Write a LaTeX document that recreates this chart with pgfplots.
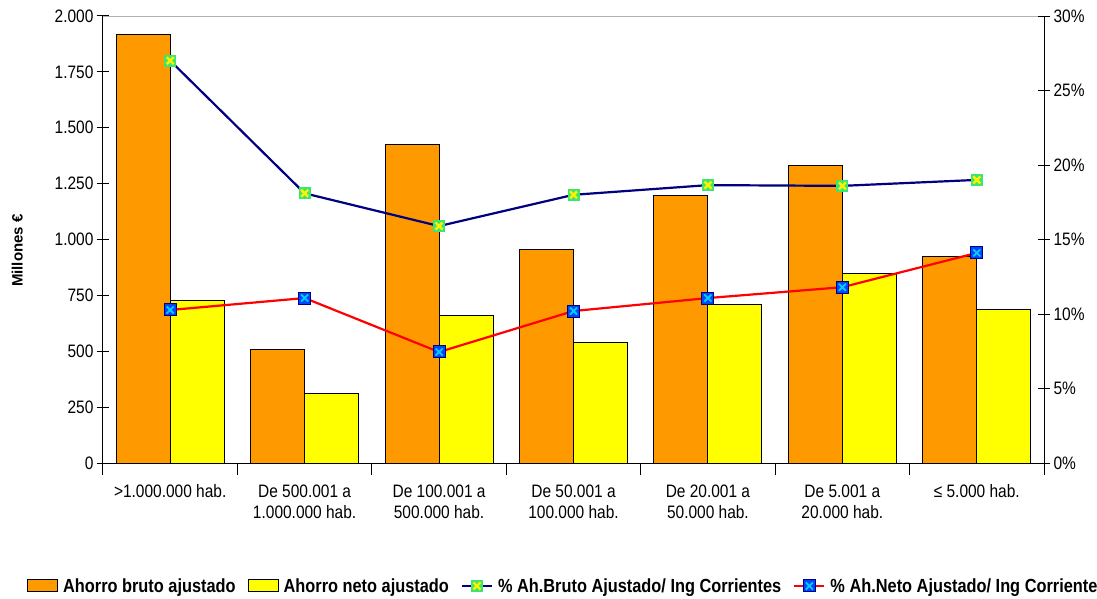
\documentclass[border=0pt]{standalone}
\usepackage{pgfplots}
\pgfplotsset{compat=1.18}
\usepackage{fontspec}
\setmainfont{Liberation Sans}[FakeStretch=0.86]
\newfontfamily\labelfont{Liberation Sans}

\definecolor{barorange}{RGB}{255,153,0}
\definecolor{baryellow}{RGB}{255,255,0}
\definecolor{linenavy}{RGB}{0,0,128}
\definecolor{linered}{RGB}{255,0,0}
\definecolor{mkgreen}{RGB}{60,230,110}
\definecolor{mkblue}{RGB}{0,70,255}
\definecolor{mkcyan}{RGB}{0,210,255}

% square markers with a cross inside
\pgfdeclareplotmark{greenx}{%
  \pgfsetfillcolor{mkgreen}%
  \pgfpathrectangle{\pgfqpoint{-6pt}{-6pt}}{\pgfqpoint{12pt}{12pt}}%
  \pgfusepath{fill}%
  \pgfsetstrokecolor{yellow}\pgfsetlinewidth{2.4pt}%
  \pgfpathmoveto{\pgfqpoint{-3.5pt}{-3.5pt}}\pgfpathlineto{\pgfqpoint{3.5pt}{3.5pt}}%
  \pgfpathmoveto{\pgfqpoint{-3.5pt}{3.5pt}}\pgfpathlineto{\pgfqpoint{3.5pt}{-3.5pt}}%
  \pgfusepath{stroke}}
\pgfdeclareplotmark{bluex}{%
  \pgfsetfillcolor{mkblue}\pgfsetstrokecolor{linenavy}\pgfsetlinewidth{1pt}%
  \pgfpathrectangle{\pgfqpoint{-6pt}{-6pt}}{\pgfqpoint{12pt}{12pt}}%
  \pgfusepath{fill,stroke}%
  \pgfsetstrokecolor{mkcyan}\pgfsetlinewidth{1.8pt}%
  \pgfpathmoveto{\pgfqpoint{-3.5pt}{-3.5pt}}\pgfpathlineto{\pgfqpoint{3.5pt}{3.5pt}}%
  \pgfpathmoveto{\pgfqpoint{-3.5pt}{3.5pt}}\pgfpathlineto{\pgfqpoint{3.5pt}{-3.5pt}}%
  \pgfusepath{stroke}}

\pgfplotsset{
  common/.style={
    at={(103pt,135pt)}, anchor=south west,
    width=941pt, height=447pt, scale only axis,
    xmin=-0.5, xmax=6.5,
    tick align=center, major tick length=12pt,
    axis line style={line width=1pt, black},
    tick style={line width=1pt, black},
    tick label style={font=\fontsize{18}{21}\selectfont, black},
  },
  mylinelegend/.style={
    legend image code/.code={\draw[mark repeat=2, mark phase=2, ##1] plot coordinates {(0pt,0pt) (15pt,0pt) (30pt,0pt)};}},
  orangelegend/.style={
    legend image code/.code={\draw[fill=barorange, draw=black, line width=1pt] (0pt,-6pt) rectangle (30pt,6pt);}},
  yellowlegend/.style={
    legend image code/.code={\draw[fill=baryellow, draw=black, line width=1pt] (0pt,-6pt) rectangle (30pt,6pt);}},
}

\begin{document}
\begin{tikzpicture}
\useasboundingbox (0,0) rectangle (1097pt,598pt);

\begin{axis}[
    common,
    axis x line*=bottom, axis y line*=left,
    ymin=0, ymax=2000,
    ytick={0,250,...,2000},
    yticklabels={0,250,500,750,{1.000},{1.250},{1.500},{1.750},{2.000}},
    xtick={-0.5,0.5,...,6.5},
    x tick label as interval,
    xticklabels={
      {>1.000.000 hab.},
      {De 500.001 a\\1.000.000 hab.},
      {De 100.001 a\\500.000 hab.},
      {De 50.001 a\\100.000 hab.},
      {De 20.001 a\\50.000 hab.},
      {De 5.001 a\\20.000 hab.},
      {≤ 5.000 hab.}},
    xticklabel style={align=center, yshift=-6pt},
    ylabel={\labelfont\bfseries\fontsize{15}{15}\selectfont Millones €},
    ylabel style={at={(axis description cs:-0.091,0.475)}, anchor=center},
    ybar, bar width=54pt,
]
\addplot[fill=barorange, draw=black, line width=1pt, bar shift=-27pt]
  coordinates {(0,1915) (1,510) (2,1423) (3,957) (4,1195) (5,1329) (6,922)};
\addplot[fill=baryellow, draw=black, line width=1pt, bar shift=27pt]
  coordinates {(0,725) (1,309) (2,658) (3,541) (4,707) (5,846) (6,689)};
\draw[gray!60, line width=0.8pt] (rel axis cs:0,1) -- (rel axis cs:1,1);
\end{axis}

\begin{axis}[
    common,
    axis x line=none, axis y line*=right,
    ymin=0, ymax=30,
    ytick={0,5,...,30},
    yticklabels={0\%,5\%,10\%,15\%,20\%,25\%,30\%},
    clip=false,
    legend columns=4,
    legend style={
      at={(axis description cs:-0.0808,-0.275)}, anchor=west,
      draw=none, fill=none, inner sep=0pt,
      font=\fontsize{19}{22}\selectfont\bfseries,
      nodes={inner sep=0pt},
      /tikz/every odd column/.append style={column sep=5pt},
      /tikz/every even column/.append style={column sep=12pt},
    },
]
\addlegendimage{orangelegend}
\addlegendentry{Ahorro bruto ajustado}
\addlegendimage{yellowlegend}
\addlegendentry{Ahorro neto ajustado}

\addplot[linenavy, line width=2.2pt, mark=greenx, mylinelegend]
  coordinates {(0,27.0) (1,18.1) (2,15.9) (3,18.0) (4,18.65) (5,18.6) (6,19.0)};
\addlegendentry{\% Ah.Bruto Ajustado/ Ing Corrientes}

\addplot[linered, line width=2.2pt, mark=bluex, mylinelegend]
  coordinates {(0,10.27) (1,11.07) (2,7.45) (3,10.2) (4,11.07) (5,11.8) (6,14.1)};
\addlegendentry{\% Ah.Neto Ajustado/ Ing Corrientes}
\end{axis}
\end{tikzpicture}
\end{document}
